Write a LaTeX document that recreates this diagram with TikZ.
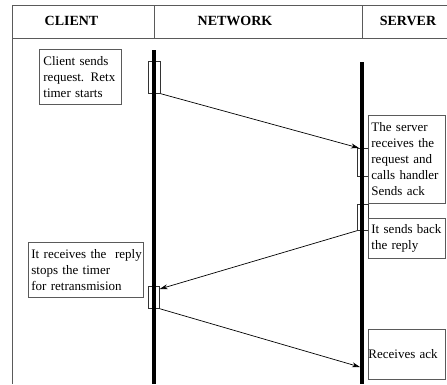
\documentclass[tikz,border=0pt]{standalone}
\usepackage{fontspec}
\setmainfont{Liberation Serif}
\usetikzlibrary{arrows.meta}
\definecolor{frame}{HTML}{5A5A5A}
\begin{document}
\begin{tikzpicture}[x=1pt,y=-1pt,
  hdr/.style={font=\fontsize{14}{16}\selectfont\bfseries, inner sep=0pt},
  note/.style={draw=frame, line width=0.8pt, anchor=north west, align=left,
    inner ysep=0pt, font=\fontsize{13}{16}\selectfont},
  act/.style={draw=black!80, line width=0.7pt, anchor=north west, inner sep=0pt},
  life/.style={line width=3.4pt, black},
  msg/.style={line width=0.7pt, -{Stealth[length=8pt,width=5pt]}}]
\useasboundingbox (0,0) rectangle (447,384);

% header band and left border
\draw[frame, line width=1pt] (447,5) -- (12,5) -- (12,384);
\draw[frame, line width=1pt] (12,38) -- (447,38);
\draw[frame, line width=1pt] (154,5) -- (154,38);
\draw[frame, line width=1pt] (362,5) -- (362,38);
\node[hdr] (hclient) at (71.5,21) {CLIENT};
\node[hdr] (hnet) at (235,21) {NETWORK};
\node[hdr] (hserver) at (408,21) {SERVER};

% activation boxes
\node[act, minimum width=12pt, minimum height=32pt] (ca) at (148,61) {};
\node[act, minimum width=11pt, minimum height=28pt] (sa) at (357,148) {};
\node[act, minimum width=11pt, minimum height=26pt] (sb) at (357,204) {};
\node[act, minimum width=11pt, minimum height=22pt] (cb) at (148,286) {};

% life lines
\draw[life] (154,50) -- (154,384);
\draw[life] (362,62) -- (362,384);

% notes
\node[note, inner xsep=4pt, text width=74pt, minimum height=55pt] (n1) at (39,49)
  {Client sends\\request. Retx\\timer starts};
\node[note, inner xsep=3pt, text width=71pt, minimum height=88pt] (n2) at (368,115)
  {The server\\receives the\\request and\\calls handler\\Sends ack};
\node[note, inner xsep=3pt, text width=71pt, minimum height=40pt] (n3) at (368,218)
  {It sends back\\the reply};
\node[note, inner xsep=3pt, text width=109pt, minimum height=55pt] (n4) at (28,242)
  {\mbox{It receives the\ \ reply}\\stops the timer\\for retransmision};
\node[note, inner xsep=0pt, text width=77pt, minimum height=50pt] (n5) at (368,329)
  {Receives ack};

% messages
\coordinate (ackin) at (360,367);
\draw[msg] (ca.south east) -- ([xshift=2pt]sa.north west);
\draw[msg] (sb.south west) -- ([yshift=-3pt]cb.north east);
\draw[msg] (cb.south east) -- (ackin);
\end{tikzpicture}
\end{document}
